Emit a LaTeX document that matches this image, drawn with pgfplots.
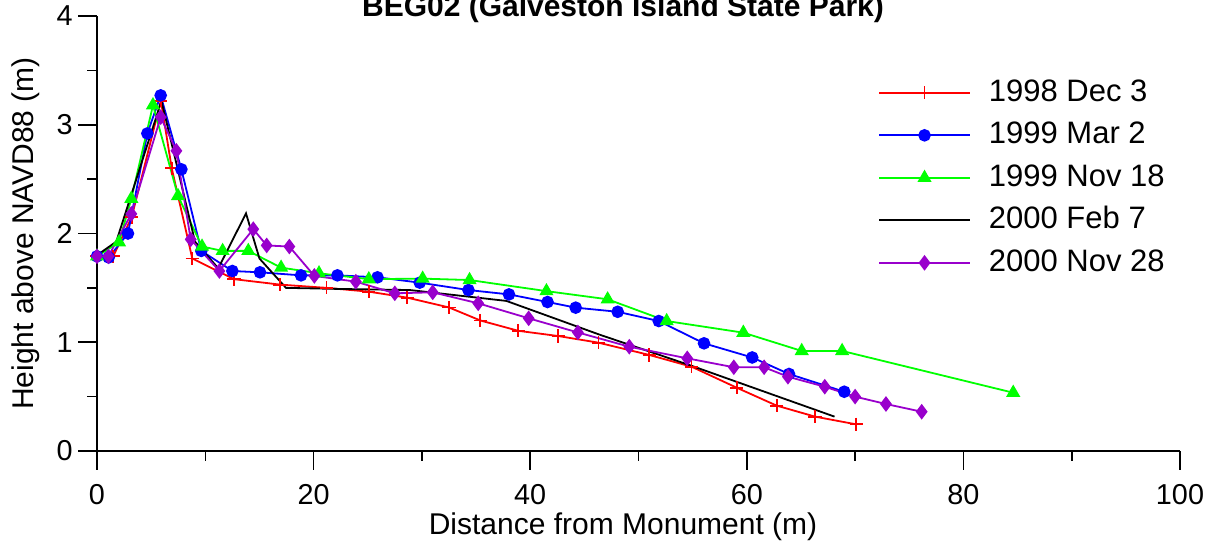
\documentclass[border=0pt]{standalone}
\usepackage{fontspec}
\setmainfont{Liberation Sans}
\usepackage{pgfplots}
\pgfplotsset{compat=1.18}
\definecolor{pur}{RGB}{153,0,204}
\begin{document}
\begin{tikzpicture}
\begin{axis}[
  at={(48.5pt,49.5pt)}, anchor=south west,
  scale only axis, width=541.5pt, height=217.5pt,
  xmin=0, xmax=100, ymin=0, ymax=4,
  axis x line*=bottom, axis y line*=left,
  axis line style={line width=1pt},
  tick align=outside,
  xtick={0,20,...,100}, minor xtick={10,30,...,90},
  ytick={0,1,2,3,4}, minor ytick={0.5,1.5,2.5,3.5},
  major tick length=9.5pt, minor tick length=5pt,
  every tick/.style={black, line width=0.8pt},
  /pgf/number format/assume math mode=true,
  tick label style={font=\fontsize{14.4pt}{17pt}\selectfont, inner sep=0pt},
  xticklabel style={anchor=base, yshift=-17.5pt},
  yticklabel style={anchor=east, xshift=-2.5pt},
  xlabel={Distance from Monument (m)},
  ylabel={Height above NAVD88 (m)},
  label style={font=\fontsize{15pt}{18pt}\selectfont},
  xlabel style={at={(axis description cs:0.4857,-0.193)}, anchor=base, inner sep=0pt},
  ylabel style={at={(axis description cs:-0.066,0.5)}, anchor=center},
  legend style={draw=none, fill=none, inner sep=0pt,
    at={(axis description cs:0.7209,0.8576)}, anchor=north west,
    font=\fontsize{15.5pt}{18pt}\selectfont,
    nodes={inner sep=0pt, text height=11.5pt, text depth=3pt},
    row sep=6.75pt, column sep=9pt},
  legend cell align=left,
  legend image code/.code={\draw[mark repeat=2,mark phase=2,#1] plot coordinates {(0pt,0pt) (22.75pt,0pt) (45.5pt,0pt)};},
  every axis plot/.append style={line width=0.9pt},
  clip=false,
]
% 1998 Dec 3
\addplot[red, mark=+, mark size=3.3pt, mark options={solid}] coordinates {
 (0,1.79) (1.5,1.79) (3.2,2.15) (5.9,3.22) (6.9,2.6) (8.8,1.77) (12.65,1.58) (16.9,1.53)
 (21.2,1.50) (25.1,1.465) (28.65,1.41) (32.5,1.32) (35.4,1.20) (38.9,1.105) (42.6,1.057)
 (46.3,0.996) (51.0,0.883) (54.9,0.775) (59.07,0.582) (62.76,0.417) (66.3,0.316) (70.1,0.245)};
% 1999 Mar 2
\addplot[blue, mark=*, mark size=2.7pt, mark options={solid}] coordinates {
 (0,1.79) (1.08,1.78) (2.86,2.0) (4.65,2.92) (5.88,3.27) (7.79,2.59) (9.63,1.84) (12.5,1.655)
 (15.05,1.643) (18.84,1.615) (22.2,1.615) (25.9,1.597) (29.8,1.548) (34.3,1.48) (38.04,1.44)
 (41.6,1.37) (44.2,1.318) (48.08,1.28) (51.87,1.195) (56.05,0.99) (60.5,0.86) (63.9,0.708) (69.0,0.545)};
% 1999 Nov 18
\addplot[green, mark=triangle*, mark size=3.2pt, mark options={solid}] coordinates {
 (0,1.79) (2.03,1.92) (3.17,2.32) (5.17,3.18) (7.48,2.345) (9.7,1.88) (11.6,1.84) (13.97,1.84)
 (17.0,1.686) (20.5,1.634) (25.1,1.58) (30.07,1.585) (34.4,1.572) (41.5,1.47) (47.15,1.395)
 (52.6,1.195) (59.68,1.088) (65.07,0.92) (68.8,0.92) (84.6,0.536)};
% 2000 Feb 7
\addplot[black, mark=none] coordinates {
 (0,1.80) (1.78,1.925) (5.95,3.22) (9.05,1.925) (11.2,1.68) (13.76,2.185) (15.0,1.77)
 (17.45,1.50) (22.4,1.49) (28.9,1.48) (37.8,1.38) (46.4,1.07) (55.0,0.78) (68.1,0.316)};
% 2000 Nov 28
\addplot[pur, mark=diamond*, mark size=3.2pt, mark options={solid}] coordinates {
 (0,1.79) (1.05,1.79) (3.17,2.18) (5.88,3.07) (7.33,2.76) (8.65,1.946) (11.3,1.655) (14.43,2.04)
 (15.67,1.89) (17.76,1.88) (20.07,1.61) (23.9,1.557) (27.5,1.45) (31.0,1.459) (35.2,1.358)
 (39.86,1.22) (44.4,1.09) (49.15,0.959) (54.5,0.852) (58.8,0.77) (61.6,0.77) (63.8,0.683)
 (67.2,0.591) (70.0,0.50) (72.85,0.432) (76.15,0.361)};
\legend{1998 Dec 3,1999 Mar 2,1999 Nov 18,2000 Feb 7,2000 Nov 28}
\node[font=\bfseries\fontsize{15pt}{18pt}\selectfont, anchor=base] at (axis description cs:0.4857,0.9977) {BEG02 (Galveston Island State Park)};
\end{axis}
\pgfresetboundingbox
\path[use as bounding box] (0pt,0pt) rectangle (608.5pt,275pt);
\end{tikzpicture}
\end{document}
